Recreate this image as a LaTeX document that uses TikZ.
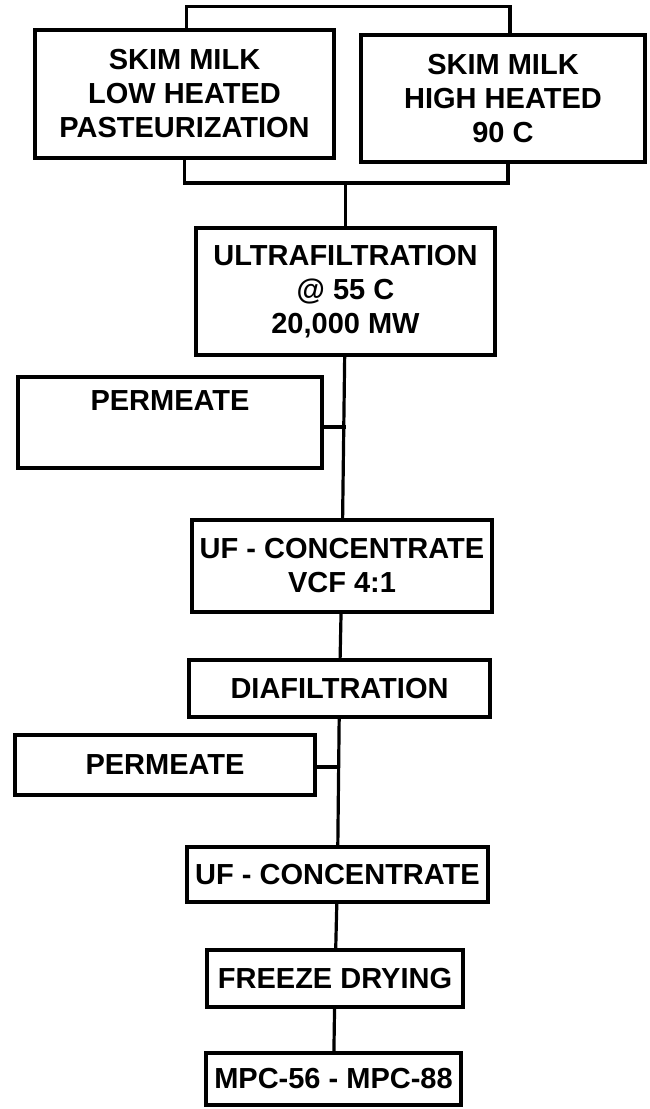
\documentclass[tikz,border=0pt]{standalone}
\usepackage{fontspec}
\setmainfont{Liberation Sans}
\usepackage{tikz}

\begin{document}
\begin{tikzpicture}[x=1pt,y=-1pt,
	box/.style={draw, line width=3.2pt, align=center, inner sep=0pt,
		font=\fontsize{29}{34}\selectfont\bfseries},
	link/.style={line width=3.2pt}]

	\useasboundingbox (0,0) rectangle (649,1109);

	% milk sources
	\node[box, minimum width=299pt, minimum height=128pt] (low) at (184.5,94) {SKIM MILK\\LOW HEATED\\PASTEURIZATION};
	\node[box, minimum width=284pt, minimum height=127pt] (high) at (503,98.5) {SKIM MILK\\HIGH HEATED\\90 C};

	\draw[link] ([xshift=2pt]low.north) -- ++(0,-22) -| ([xshift=7pt]high.north);
	\coordinate (join) at (345.5,183);
	\draw[link] (low.south) |- (join) -| ([xshift=5pt]high.south);

	% filtration steps
	\node[box, minimum width=299pt, minimum height=127pt] (ultra) at (345.5,291.5) {ULTRAFILTRATION\\@ 55 C\\20,000 MW};
	\node[box, minimum width=304pt, minimum height=91pt] (perma) at (170,422.5) {PERMEATE\\\strut};
	\node[box, minimum width=300pt, minimum height=92pt] (concA) at (342,566) {UF - CONCENTRATE\\VCF 4:1};
	\node[box, minimum width=301pt, minimum height=57pt] (dia) at (339.5,688.5) {DIAFILTRATION};
	\node[box, minimum width=300pt, minimum height=60pt] (permb) at (165,765) {PERMEATE};
	\node[box, minimum width=301pt, minimum height=55pt] (concB) at (337.5,874.5) {UF - CONCENTRATE};
	\node[box, minimum width=256pt, minimum height=57pt] (freeze) at (335,978.5) {FREEZE DRYING};
	\node[box, minimum width=255pt, minimum height=52pt] (mpc) at (333.5,1079) {MPC-56 - MPC-88};

	\draw[link] (join) -- (ultra.north);
	\draw[link] (ultra) -- (concA);
	\draw[link] ([yshift=-4.5pt]perma.east) -- ([yshift=-4.5pt]perma.east -| ultra.south);
	\draw[link] (concA) -- (dia);
	\draw[link] ([yshift=-2pt]permb.east) -- ([yshift=-2pt]permb.east -| dia.south);
	\draw[link] (dia) -- (concB);
	\draw[link] (concB) -- (freeze);
	\draw[link] (freeze) -- (mpc);

\end{tikzpicture}
\end{document}
